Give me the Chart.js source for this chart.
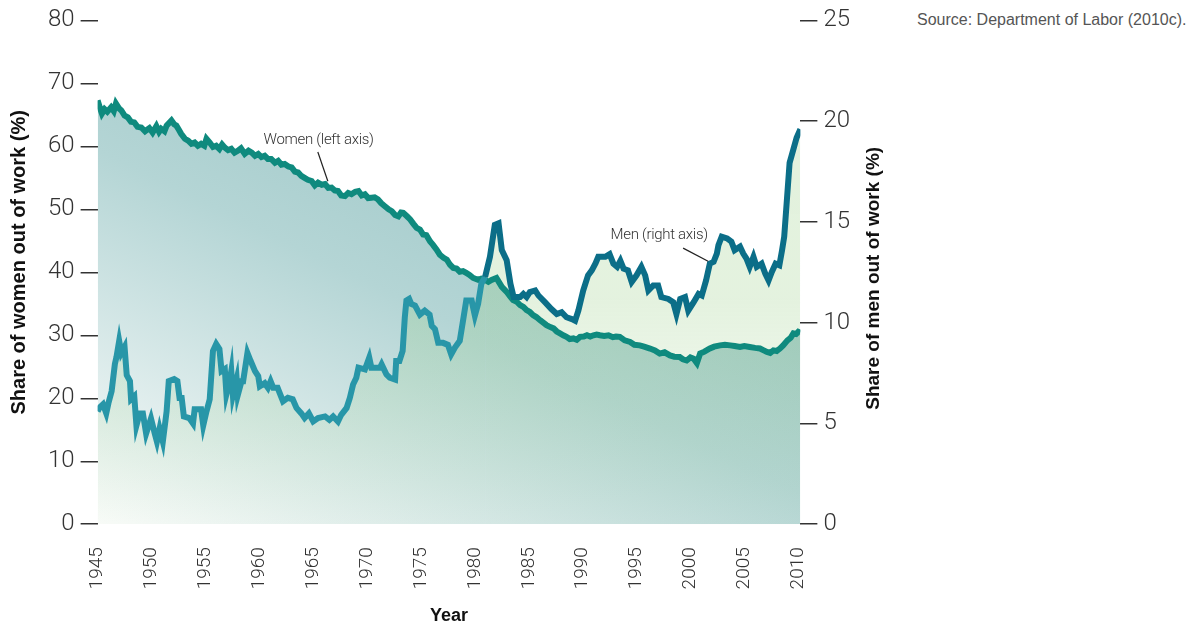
<!DOCTYPE html>
<html>
<head>
<meta charset="utf-8">
<script src="https://cdn.jsdelivr.net/npm/chart.js@4.4.1/dist/chart.umd.min.js"></script>
<style>
  html, body { margin: 0; padding: 0; background: #fff; }
  #wrap { position: absolute; left: 0; top: 0; width: 900px; height: 627px; }
  #source { position: absolute; left: 917px; top: 11px; font: 16px "Liberation Sans", Arial, sans-serif; color: #555; white-space: nowrap; }
</style>
</head>
<body>
<div id="wrap"><canvas id="chart"></canvas></div>
<div id="source">Source: Department of Labor (2010c).</div>
<script>
// Share of men / women out of work, 1945-2010 (two y-axes)

const menYears = [
  1945.0, 1945.2, 1945.5, 1945.8, 1946.0, 1946.3, 1946.6, 1946.75, 1947.0, 1947.2, 1947.5, 1947.7,
  1948.0, 1948.1, 1948.4, 1948.6, 1948.9, 1949.2, 1949.5, 1949.95, 1950.3, 1950.5, 1950.75, 1951.05,
  1951.4, 1951.6, 1952.1, 1952.4, 1952.6, 1952.8, 1953.0, 1953.5, 1953.85, 1954.0, 1954.6, 1954.8,
  1955.1, 1955.4, 1955.7, 1956.0, 1956.3, 1956.5, 1956.8, 1956.95, 1957.25, 1957.4, 1957.55, 1957.9,
  1958.0, 1958.35, 1958.5, 1958.9, 1959.2, 1959.6, 1959.9, 1960.05, 1960.5, 1960.8, 1961.05, 1961.3,
  1961.7, 1962.2, 1962.65, 1963.1, 1963.45, 1963.9, 1964.2, 1964.6, 1965.0, 1965.45, 1966.1, 1966.5,
  1966.85, 1967.3, 1967.6, 1968.1, 1968.4, 1968.7, 1969.0, 1969.2, 1969.8, 1970.2, 1970.4, 1971.2,
  1971.35, 1971.8, 1972.1, 1972.6, 1972.7, 1973.0, 1973.3, 1973.5, 1973.65, 1973.9, 1974.1, 1974.45,
  1974.9, 1975.35, 1975.8, 1976.0, 1976.3, 1976.6, 1977.05, 1977.5, 1977.8, 1978.15, 1978.6, 1978.9,
  1979.2, 1979.7, 1980.0, 1980.3, 1980.6, 1980.95, 1981.4, 1981.85, 1982.2, 1982.5, 1982.95, 1983.3,
  1983.6, 1984.2, 1984.5, 1984.8, 1985.1, 1985.6, 1985.9, 1986.5, 1987.1, 1987.6, 1988.05, 1988.5,
  1989.0, 1989.3, 1989.6, 1990.05, 1990.5, 1990.85, 1991.2, 1991.45, 1992.1, 1992.5, 1992.85, 1993.2,
  1993.5, 1993.8, 1994.2, 1994.55, 1995.0, 1995.45, 1995.8, 1996.1, 1996.55, 1997.0, 1997.3, 1997.95,
  1998.4, 1998.7, 1999.05, 1999.5, 1999.8, 2000.3, 2000.75, 2001.05, 2001.45, 2001.8, 2002.15, 2002.45,
  2002.6, 2002.9, 2003.4, 2003.8, 2004.1, 2004.6, 2004.9, 2005.2, 2005.5, 2005.85, 2006.15, 2006.6,
  2006.95, 2007.25, 2007.55, 2007.9, 2008.25, 2008.5, 2008.7, 2008.95, 2009.2, 2009.55, 2009.85, 2010.2
];
const menShare = [
  5.6, 5.8, 5.95, 5.5, 6.0, 6.6, 7.95, 8.3, 9.1, 8.5, 8.8, 7.4,
  7.1, 6.2, 6.35, 4.9, 5.5, 5.5, 4.5, 5.25, 4.5, 4.1, 4.75, 4.1,
  5.6, 7.1, 7.2, 7.1, 6.27, 6.27, 5.35, 5.27, 5.0, 5.7, 5.7, 4.9,
  5.6, 6.2, 8.6, 8.95, 8.7, 7.6, 7.7, 6.45, 7.1, 7.6, 6.4, 7.2,
  6.4, 7.1, 7.1, 8.5, 8.1, 7.6, 7.35, 6.85, 7.0, 6.77, 7.1, 6.77,
  6.77, 6.1, 6.27, 6.2, 5.77, 5.5, 5.27, 5.5, 5.1, 5.27, 5.35, 5.18,
  5.35, 5.1, 5.43, 5.77, 6.27, 6.93, 7.27, 7.77, 7.68, 8.27, 7.77, 7.77,
  7.93, 7.43, 7.27, 7.18, 8.1, 8.1, 8.6, 10.27, 11.1, 11.18, 10.93, 10.85,
  10.4, 10.6, 10.4, 9.85, 9.68, 9.0, 9.0, 8.9, 8.43, 8.77, 9.1, 10.1,
  11.1, 11.1, 10.35, 10.93, 11.93, 12.27, 13.27, 14.85, 14.93, 13.6, 13.1, 11.93,
  11.27, 11.27, 11.43, 11.27, 11.52, 11.6, 11.35, 11.02, 10.68, 10.43, 10.52, 10.27,
  10.18, 10.1, 10.6, 11.6, 12.35, 12.6, 12.95, 13.27, 13.27, 13.4, 12.93, 12.77,
  13.07, 12.68, 12.6, 12.02, 12.35, 12.77, 12.35, 11.6, 11.85, 11.85, 11.27, 11.18,
  11.02, 10.43, 11.18, 11.27, 10.6, 11.02, 11.43, 11.35, 12.1, 12.93, 13.02, 13.43,
  13.85, 14.27, 14.18, 14.02, 13.6, 13.77, 13.43, 13.18, 12.77, 13.27, 12.77, 12.93,
  12.43, 12.1, 12.52, 12.93, 12.85, 13.6, 14.27, 16.1, 17.93, 18.6, 19.18, 19.6
];

const womenYears = [
  1945.0, 1945.2, 1945.4, 1945.65, 1945.9, 1946.25, 1946.5, 1946.7, 1947.0, 1947.2, 1947.5, 1947.8,
  1948.1, 1948.4, 1948.7, 1949.05, 1949.4, 1949.8, 1950.1, 1950.45, 1950.7, 1950.9, 1951.2, 1951.4,
  1951.85, 1952.1, 1952.3, 1952.55, 1952.75, 1953.1, 1953.4, 1953.7, 1954.0, 1954.3, 1954.6, 1954.9,
  1955.1, 1955.4, 1955.7, 1956.0, 1956.3, 1956.55, 1956.8, 1957.1, 1957.4, 1957.7, 1958.0, 1958.3,
  1958.65, 1959.0, 1959.3, 1959.6, 1959.9, 1960.2, 1960.5, 1960.8, 1961.1, 1961.45, 1961.75, 1962.05,
  1962.35, 1962.7, 1963.0, 1963.3, 1963.6, 1963.9, 1964.2, 1964.5, 1964.85, 1965.15, 1965.45, 1965.8,
  1966.1, 1966.4, 1966.7, 1967.0, 1967.3, 1967.6, 1967.95, 1968.25, 1968.55, 1968.9, 1969.2, 1969.5,
  1969.8, 1970.1, 1970.4, 1970.7, 1971.0, 1971.3, 1971.65, 1972.0, 1972.3, 1972.6, 1972.9, 1973.15,
  1973.35, 1973.7, 1974.0, 1974.3, 1974.6, 1974.9, 1975.2, 1975.5, 1975.85, 1976.1, 1976.45, 1976.75,
  1977.1, 1977.4, 1977.7, 1978.0, 1978.3, 1978.6, 1978.9, 1979.2, 1979.5, 1979.85, 1980.3, 1980.6,
  1980.95, 1981.25, 1981.55, 1982.0, 1982.25, 1982.5, 1982.95, 1983.25, 1983.55, 1983.9, 1984.2, 1984.5,
  1984.8, 1985.1, 1985.4, 1985.7, 1986.05, 1986.35, 1986.65, 1987.0, 1987.3, 1987.6, 1987.9, 1988.2,
  1988.5, 1988.8, 1989.15, 1989.45, 1989.75, 1990.1, 1990.4, 1990.7, 1991.0, 1991.3, 1991.6, 1992.0,
  1992.4, 1992.8, 1993.1, 1993.45, 1993.9, 1994.4, 1994.8, 1995.3, 1995.7, 1996.25, 1996.7, 1997.15,
  1997.6, 1998.1, 1998.5, 1999.0, 1999.3, 1999.65, 2000.0, 2000.3, 2000.6, 2000.9, 2001.3, 2001.8,
  2002.2, 2002.75, 2003.2, 2003.7, 2004.1, 2004.6, 2005.0, 2005.5, 2006.0, 2006.45, 2006.8, 2007.1,
  2007.4, 2007.7, 2008.0, 2008.3, 2008.6, 2009.0, 2009.3, 2009.55, 2009.8, 2010.0, 2010.2
];
const womenShare = [
  67.3, 66.2, 65.2, 65.9, 65.5, 66.2, 65.6, 66.8, 66.0, 65.7, 64.9, 64.6,
  63.9, 63.8, 63.1, 63.0, 62.4, 62.9, 62.2, 63.2, 62.3, 62.8, 62.4, 63.3,
  64.1, 63.5, 63.3, 62.6, 62.0, 61.2, 60.9, 60.4, 60.6, 60.1, 60.4, 60.1,
  61.2, 60.6, 59.9, 60.1, 59.6, 60.3, 59.8, 59.4, 59.6, 59.0, 59.3, 59.7,
  58.8, 59.3, 59.0, 58.5, 58.8, 58.3, 58.5, 58.0, 58.0, 57.4, 57.7, 57.1,
  57.2, 56.8, 56.65, 56.0, 55.85, 55.3, 55.0, 54.7, 54.5, 53.8, 54.25, 53.9,
  54.0, 53.4, 53.45, 53.0, 52.9, 52.2, 52.1, 52.6, 52.4, 52.8, 52.9, 52.2,
  52.4, 51.8, 51.85, 51.9, 51.6, 51.0, 50.5, 50.0, 49.7, 49.1, 48.9, 49.5,
  49.45, 48.9, 48.4, 47.7, 47.05, 46.8, 46.0, 45.9, 44.9, 44.4, 43.6, 42.8,
  42.3, 42.0, 41.2, 40.7, 40.6, 40.1, 40.2, 39.9, 39.6, 39.1, 38.8, 39.0,
  38.8, 38.5, 38.8, 39.1, 38.4, 37.7, 36.9, 36.2, 35.6, 35.3, 34.8, 34.5,
  34.0, 33.7, 33.2, 32.9, 32.4, 32.0, 31.6, 31.3, 31.1, 30.6, 30.3, 30.0,
  29.75, 29.4, 29.5, 29.3, 29.75, 29.8, 30.0, 29.8, 30.0, 30.1, 30.0, 29.9,
  30.0, 29.7, 29.8, 29.75, 29.2, 28.95, 28.5, 28.4, 28.2, 27.9, 27.6, 27.1,
  27.3, 26.8, 26.6, 26.55, 26.2, 26.0, 26.5, 26.3, 25.6, 27.1, 27.4, 27.9,
  28.2, 28.4, 28.5, 28.4, 28.3, 28.15, 28.3, 28.15, 28.0, 27.9, 27.6, 27.35,
  27.2, 27.6, 27.5, 27.9, 28.4, 29.2, 29.6, 30.3, 30.2, 30.55, 30.4
];

const womenAxisTicks = [0, 80, 10];   // min, max, step
const menAxisTicks = [0, 25, 5];
const yearRange = [1945, 2010.2, 5];

// label anchors in data units: [year, value]
const womenLabel = { text: "Women (left axis)", at: [1965.5, 61.0], from: [1965.43, 59.1], to: [1966.36, 54.45] };
const menLabel = { text: "Men (right axis)", at: [1997.1, 14.35], from: [1999.32, 13.7], to: [2001.64, 13.05] };

const TICK_FONT = { family: "Roboto, 'Liberation Sans', sans-serif", size: 24, weight: 300 };

const menPts = menYears.map((x, i) => ({ x, y: menShare[i] }));
const womenPts = womenYears.map((x, i) => ({ x, y: womenShare[i] }));

function womenAt(year) {
  // closest women value, to colour the men line where it runs under the women area
  let best = 0;
  for (let i = 0; i < womenYears.length; i++) {
    if (Math.abs(womenYears[i] - year) < Math.abs(womenYears[best] - year)) best = i;
  }
  return womenShare[best];
}

function womenGradient(context) {
  const { chart } = context;
  const a = chart.chartArea;
  if (!a) return "#b3d4d4";
  const g = chart.ctx.createLinearGradient(a.left, a.bottom, a.left + (a.right - a.left) * 0.35, a.top);
  g.addColorStop(0, "#fcfdfc");
  g.addColorStop(0.6, "#b4d5d5");
  g.addColorStop(1, "#9cc6c6");
  return g;
}

function menGradient(context) {
  const { chart } = context;
  const a = chart.chartArea;
  if (!a) return "rgba(150,205,130,0.27)";
  const g = chart.ctx.createLinearGradient(0, a.top, 0, a.bottom);
  g.addColorStop(0, "rgba(150,205,130,0.28)");
  g.addColorStop(0.55, "rgba(150,205,130,0.26)");
  g.addColorStop(1, "rgba(150,205,130,0.04)");
  return g;
}

const notes = {
  id: "notes",
  afterDatasetsDraw(chart) {
    const { ctx, scales, chartArea: a } = chart;
    const x = scales.x, yl = scales.y, yr = scales.y2;
    ctx.save();
    ctx.font = "300 15px Roboto, 'Liberation Sans', sans-serif";
    ctx.fillStyle = "#333";
    ctx.textAlign = "center";
    ctx.textBaseline = "middle";
    ctx.letterSpacing = "-0.3px";
    ctx.strokeStyle = "#222";
    ctx.lineWidth = 1.2;
    [[womenLabel, yl], [menLabel, yr]].forEach(([n, ys]) => {
      ctx.fillText(n.text, x.getPixelForValue(n.at[0]), ys.getPixelForValue(n.at[1]));
      ctx.beginPath();
      ctx.moveTo(x.getPixelForValue(n.from[0]), ys.getPixelForValue(n.from[1]));
      ctx.lineTo(x.getPixelForValue(n.to[0]), ys.getPixelForValue(n.to[1]));
      ctx.stroke();
    });
    ctx.restore();

    // axis titles, both reading bottom to top
    const mid = (a.top + a.bottom) / 2;
    [["Share of women out of work (%)", a.left - 78, mid - 10, 20],
     ["Share of men out of work (%)", a.right + 73, mid + 6, 19]].forEach(([t, tx, ty, size]) => {
      ctx.save();
      ctx.font = "bold " + size + "px 'Liberation Sans', Arial, sans-serif";
      ctx.fillStyle = "#111";
      ctx.textAlign = "center";
      ctx.textBaseline = "middle";
      ctx.translate(tx, ty);
      ctx.rotate(-Math.PI / 2);
      ctx.fillText(t, 0, 0);
      ctx.restore();
    });
  }
};

const sideGrid = { display: true, drawOnChartArea: false, drawTicks: true, tickLength: 17, color: "#333", lineWidth: 1.5 };

new Chart(document.getElementById("chart"), {
  type: "line",
  data: {
    datasets: [
      {
        label: "Men",
        data: menPts,
        yAxisID: "y2",
        borderColor: "#0b6e88",
        borderWidth: 6,
        pointRadius: 0,
        fill: "origin",
        backgroundColor: menGradient,
        segment: {
          borderColor: c => (c.p0.parsed.y * 3.2 < womenAt(c.p0.parsed.x) ? "#2896a8" : "#0b6e88")
        }
      },
      {
        label: "Women",
        data: womenPts,
        yAxisID: "y",
        borderColor: "#0f8a7e",
        borderWidth: 6,
        pointRadius: 0,
        fill: "origin",
        backgroundColor: womenGradient
      }
    ]
  },
  options: {
    responsive: true,
    maintainAspectRatio: false,
    animation: false,
    layout: { padding: { left: 42, top: 20, right: 44, bottom: 0 } },
    plugins: {
      legend: { display: false },
      tooltip: { enabled: false },
      filler: { drawTime: "beforeDatasetsDraw" }
    },
    scales: {
      x: {
        type: "linear",
        min: yearRange[0], max: yearRange[1],
        grid: { display: false },
        border: { display: false },
        ticks: {
          stepSize: yearRange[2], includeBounds: false,
          minRotation: 90, maxRotation: 90, padding: 15,
          color: "#333", font: { family: TICK_FONT.family, size: 19, weight: 300 },
          callback: v => String(v)
        },
        title: { display: true, text: "Year", color: "#111", font: { family: "'Liberation Sans', Arial, sans-serif", size: 18, weight: "bold" }, padding: { top: 1, bottom: 0 } }
      },
      y: {
        position: "left",
        min: womenAxisTicks[0], max: womenAxisTicks[1],
        grid: sideGrid,
        border: { display: false },
        ticks: { stepSize: womenAxisTicks[2], color: "#333", font: TICK_FONT, padding: 6 }
      },
      y2: {
        position: "right",
        min: menAxisTicks[0], max: menAxisTicks[1],
        grid: sideGrid,
        border: { display: false },
        ticks: { stepSize: menAxisTicks[2], color: "#333", font: TICK_FONT, padding: 6 }
      }
    }
  },
  plugins: [notes]
});
</script>
</body>
</html>
